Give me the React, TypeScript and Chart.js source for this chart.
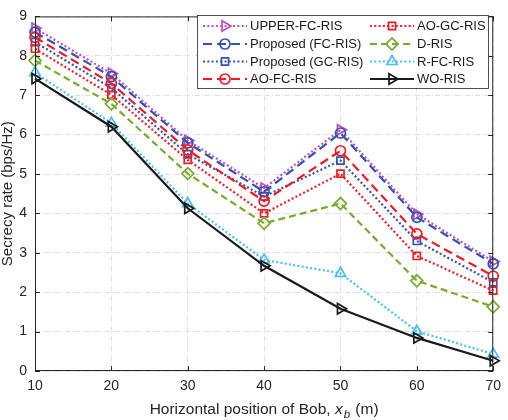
import React, { useEffect, useRef } from "react";
import { Chart, registerables } from "chart.js";

Chart.register(...registerables);

// ---------- data ----------
const xPositions = [10, 20, 30, 40, 50, 60, 70];
const upperFC = [8.7, 7.55, 5.85, 4.64, 6.12, 3.98, 2.78];
const proposedFC = [8.6, 7.47, 5.79, 4.55, 6.04, 3.9, 2.72];
const proposedGC = [8.35, 7.18, 5.5, 4.43, 5.34, 3.3, 2.25];
const aoFC = [8.47, 7.3, 5.61, 4.31, 5.59, 3.48, 2.41];
const aoGC = [8.18, 7.01, 5.36, 4.0, 5.01, 2.92, 2.04];
const dRIS = [7.88, 6.78, 5.01, 3.75, 4.25, 2.29, 1.63];
const rFC = [7.57, 6.29, 4.25, 2.82, 2.48, 1.01, 0.43];
const woRIS = [7.42, 6.2, 4.13, 2.67, 1.58, 0.84, 0.26];
const xTickValues = [10, 20, 30, 40, 50, 60, 70];
const yTickValues = [0, 1, 2, 3, 4, 5, 6, 7, 8, 9];
const seriesLabels = [
  "UPPER-FC-RIS",
  "Proposed (FC-RIS)",
  "Proposed (GC-RIS)",
  "AO-FC-RIS",
  "AO-GC-RIS",
  "D-RIS",
  "R-FC-RIS",
  "WO-RIS",
];
const seriesValues = [upperFC, proposedFC, proposedGC, aoFC, aoGC, dRIS, rFC, woRIS];

// ---------- styles ----------
const FONT = '"Liberation Sans", Arial, Helvetica, sans-serif';
const MAGENTA = "#BF4FBF";
const BLUE = "#3552B0";
const RED = "#EE1C25";
const GREEN = "#77AC30";
const CYAN = "#4DBEEE";
const BLACK = "#1A1A1A";
const DOT = [2, 2.3];
const DASH = [9, 5];
const SOLID: number[] = [];

type Style = { color: string; dash: number[]; marker: string; rot: number; r: number };
const seriesStyles: Style[] = [
  { color: MAGENTA, dash: DOT, marker: "triangle", rot: 90, r: 6 },
  { color: BLUE, dash: DASH, marker: "circle", rot: 0, r: 5 },
  { color: BLUE, dash: DOT, marker: "rect", rot: 0, r: 5 },
  { color: RED, dash: DASH, marker: "circle", rot: 0, r: 5 },
  { color: RED, dash: DOT, marker: "rect", rot: 0, r: 5 },
  { color: GREEN, dash: [7, 4], marker: "rectRot", rot: 0, r: 6 },
  { color: CYAN, dash: DOT, marker: "triangle", rot: 0, r: 6 },
  { color: BLACK, dash: SOLID, marker: "triangle", rot: 90, r: 6 },
];

function drawMarker(ctx: CanvasRenderingContext2D, s: Style, x: number, y: number) {
  const r = s.r;
  ctx.beginPath();
  if (s.marker === "circle") {
    ctx.arc(x, y, r, 0, Math.PI * 2);
  } else if (s.marker === "rect") {
    const h = Math.SQRT1_2 * r;
    ctx.rect(x - h, y - h, 2 * h, 2 * h);
  } else if (s.marker === "rectRot") {
    ctx.moveTo(x - r, y);
    ctx.lineTo(x, y - r);
    ctx.lineTo(x + r, y);
    ctx.lineTo(x, y + r);
    ctx.closePath();
  } else {
    let a = (s.rot * Math.PI) / 180;
    ctx.moveTo(x + Math.sin(a) * r, y - Math.cos(a) * r);
    a += (2 * Math.PI) / 3;
    ctx.lineTo(x + Math.sin(a) * r, y - Math.cos(a) * r);
    a += (2 * Math.PI) / 3;
    ctx.lineTo(x + Math.sin(a) * r, y - Math.cos(a) * r);
    ctx.closePath();
  }
  ctx.setLineDash([]);
  ctx.lineWidth = 1.7;
  ctx.strokeStyle = s.color;
  ctx.stroke();
}

const decorPlugin = {
  id: "decor",
  afterDraw(chart: any) {
    const ctx: CanvasRenderingContext2D = chart.ctx;
    const { left, right, top, bottom } = chart.chartArea;
    const xs = chart.scales.x;
    const ys = chart.scales.y;
    ctx.save();
    // frame
    ctx.setLineDash([]);
    ctx.strokeStyle = "#262626";
    ctx.lineWidth = 1;
    ctx.strokeRect(left + 0.5, top + 0.5, right - left - 1, bottom - top - 1);
    // inside ticks
    const tl = 5;
    ctx.beginPath();
    xTickValues.forEach((v) => {
      const px = Math.round(xs.getPixelForValue(v)) + 0.5;
      ctx.moveTo(px, bottom);
      ctx.lineTo(px, bottom - tl);
      ctx.moveTo(px, top);
      ctx.lineTo(px, top + tl);
    });
    yTickValues.forEach((v) => {
      const py = Math.round(ys.getPixelForValue(v)) + 0.5;
      ctx.moveTo(left, py);
      ctx.lineTo(left + tl, py);
      ctx.moveTo(right, py);
      ctx.lineTo(right - tl, py);
    });
    ctx.stroke();

    // x-axis title with italic subscript
    const p1 = "Horizontal position of Bob, ";
    const p2 = "x";
    const p3 = "b";
    const p4 = " (m)";
    const nf = `15.5px ${FONT}`;
    const itf = `italic 15.5px ${FONT}`;
    const sf = `italic 11.5px ${FONT}`;
    ctx.font = nf;
    const w1 = ctx.measureText(p1).width;
    const w4 = ctx.measureText(p4).width;
    ctx.font = itf;
    const w2 = ctx.measureText(p2).width;
    ctx.font = sf;
    const w3 = ctx.measureText(p3).width;
    const total = w1 + w2 + w3 + w4 + 2;
    let cx = (left + right) / 2 - total / 2;
    const by = 414;
    ctx.fillStyle = "#262626";
    ctx.textBaseline = "alphabetic";
    ctx.textAlign = "left";
    ctx.font = nf;
    ctx.fillText(p1, cx, by);
    cx += w1;
    ctx.font = itf;
    ctx.fillText(p2, cx, by);
    cx += w2 + 1;
    ctx.font = sf;
    ctx.fillText(p3, cx, by + 4);
    cx += w3 + 1;
    ctx.font = nf;
    ctx.fillText(p4, cx, by);

    // legend
    const box = { l: 197.5, t: 15.5, r: 488.5, b: 88.5 };
    ctx.fillStyle = "#ffffff";
    ctx.fillRect(box.l, box.t, box.r - box.l, box.b - box.t);
    ctx.strokeStyle = "#262626";
    ctx.lineWidth = 0.8;
    ctx.strokeRect(box.l, box.t, box.r - box.l, box.b - box.t);
    const colX = [203, 370];
    const rowY = [26, 44, 61.5, 79];
    ctx.font = `13px ${FONT}`;
    ctx.textBaseline = "middle";
    seriesLabels.forEach((lab, i) => {
      const s = seriesStyles[i];
      const x0 = colX[Math.floor(i / 4)];
      const y = rowY[i % 4];
      ctx.setLineDash(s.dash);
      ctx.lineCap = "butt";
      ctx.strokeStyle = s.color;
      ctx.lineWidth = 2;
      ctx.beginPath();
      ctx.moveTo(x0, y);
      ctx.lineTo(x0 + 44, y);
      ctx.stroke();
      drawMarker(ctx, s, x0 + 22, y);
      ctx.fillStyle = "#1A1A1A";
      ctx.fillText(lab, x0 + 47, y + 0.5);
    });
    ctx.restore();
  },
};

export default function App() {
  const ref = useRef<HTMLCanvasElement | null>(null);
  useEffect(() => {
    if (!ref.current) return;
    const datasets = seriesLabels.map((lab, i) => {
      const s = seriesStyles[i];
      return {
        label: lab,
        data: xPositions.map((x, j) => ({ x, y: seriesValues[i][j] })),
        borderColor: s.color,
        backgroundColor: s.color,
        borderWidth: 2.2,
        borderDash: s.dash,
        borderCapStyle: "butt" as const,
        pointStyle: s.marker as any,
        pointRotation: s.rot,
        pointRadius: s.r,
        pointBorderWidth: 1.7,
        pointBorderColor: s.color,
        pointBackgroundColor: "rgba(0,0,0,0)",
        tension: 0,
        fill: false,
        clip: false as any,
        order: seriesLabels.length - i,
      };
    });
    const chart = new Chart(ref.current, {
      type: "line",
      data: { datasets },
      options: {
        animation: false,
        responsive: false,
        maintainAspectRatio: false,
        layout: { padding: { left: 0, top: 6, right: 9, bottom: 0 } },
        plugins: { legend: { display: false }, tooltip: { enabled: false } },
        scales: {
          x: {
            type: "linear",
            min: 10,
            max: 70,
            afterFit: (scale: any) => {
              scale.height = 49;
            },
            afterBuildTicks: (scale: any) => {
              scale.ticks = xTickValues.map((v) => ({ value: v }));
            },
            ticks: {
              padding: 7,
              color: "#262626",
              font: { family: FONT, size: 14 },
            },
            grid: { color: "rgba(0,0,0,0.13)", lineWidth: 1, drawTicks: false },
            border: { display: false, dash: [5, 2, 1, 2] },
          },
          y: {
            min: 0,
            max: 9,
            afterFit: (scale: any) => {
              scale.width = 35;
            },
            afterBuildTicks: (scale: any) => {
              scale.ticks = yTickValues.map((v) => ({ value: v }));
            },
            ticks: {
              padding: 8,
              color: "#262626",
              font: { family: FONT, size: 14 },
            },
            grid: { color: "rgba(0,0,0,0.13)", lineWidth: 1, drawTicks: false },
            border: { display: false, dash: [5, 2, 1, 2] },
            title: {
              display: true,
              text: "Secrecy rate (bps/Hz)",
              color: "#262626",
              font: { family: FONT, size: 15, lineHeight: 1 },
              padding: { top: 0, bottom: 0 },
            },
          },
        },
      },
      plugins: [decorPlugin],
    });
    return () => chart.destroy();
  }, []);
  return (
    <div style={{ position: "absolute", left: 0, top: 0, width: 508, height: 420, background: "#fff" }}>
      <canvas ref={ref} width={508} height={420} style={{ width: 508, height: 420, display: "block" }} />
    </div>
  );
}
